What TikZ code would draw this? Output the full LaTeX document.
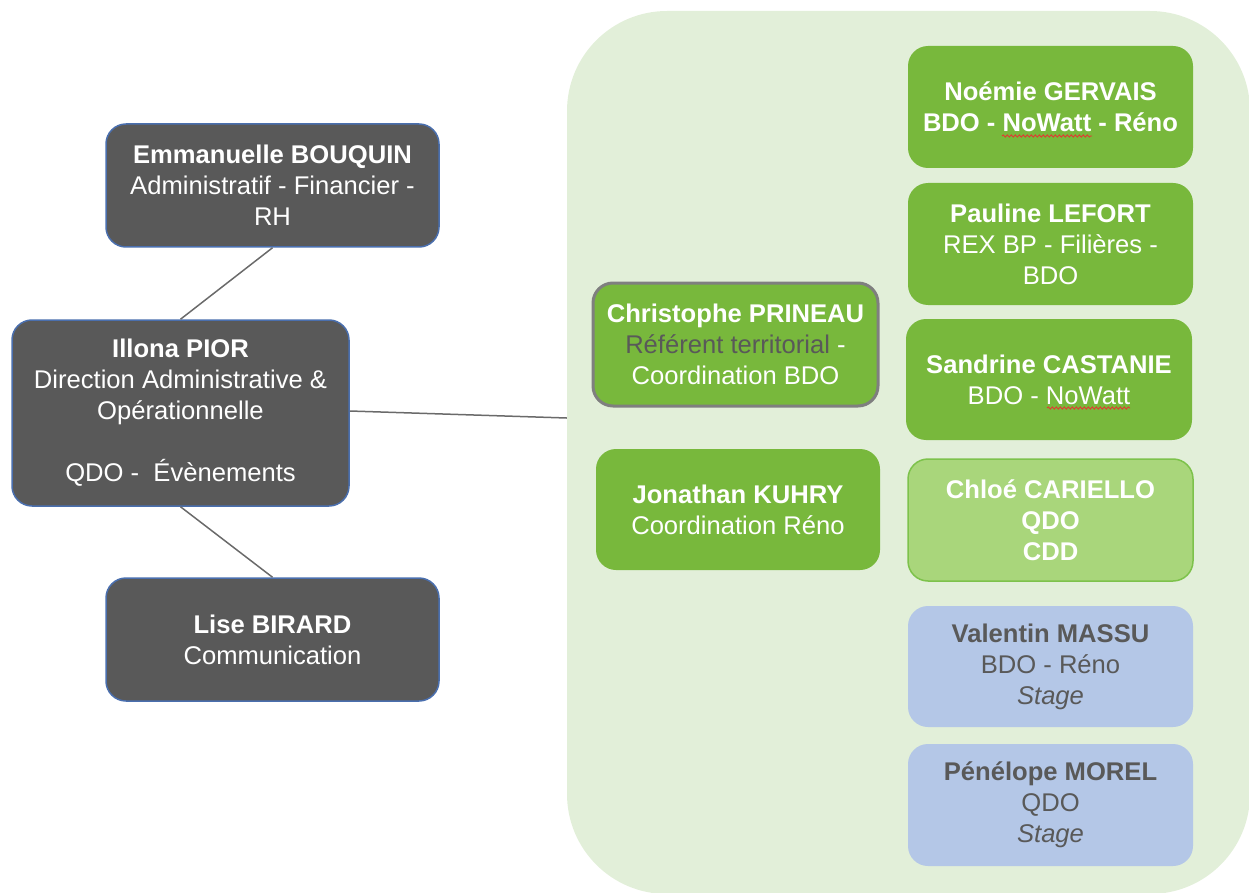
\documentclass[tikz,border=0pt]{standalone}
\usepackage{fontspec}
\setmainfont{Liberation Sans}
\usetikzlibrary{decorations.pathmorphing}
\definecolor{dk}{HTML}{595959}
\definecolor{dkborder}{HTML}{4A6FAE}
\definecolor{gr}{HTML}{78B83C}
\definecolor{lgr}{HTML}{A9D67B}
\definecolor{lgrb}{HTML}{7DC24B}
\definecolor{bl}{HTML}{B4C7E7}
\definecolor{bgc}{HTML}{E2EFD9}
\definecolor{ln}{HTML}{6A6A6A}
\definecolor{chb}{HTML}{7F7F7F}
\definecolor{spell}{HTML}{E03C31}
\begin{document}
\begin{tikzpicture}[x=1pt,y=-1pt,
  base/.style={rounded corners=20pt, inner sep=0pt, align=center, font=\fontsize{25.6}{31}\selectfont},
  darkbox/.style={base, fill=dk, draw=dkborder, line width=1.5pt, text=white},
  greenbox/.style={base, fill=gr, text=white},
  lgreenbox/.style={base, fill=lgr, draw=lgrb, line width=1.5pt, text=white},
  bluebox/.style={base, fill=bl, text=dk},
  link/.style={draw=ln, line width=1.5pt},
  squiggle/.style={spell, line width=0.9pt, decorate, decoration={snake, amplitude=1.1pt, segment length=4pt}}
]
\useasboundingbox (0,0) rectangle (1249,893);
\node[fill=bgc, rounded corners=100pt, inner sep=0pt, minimum width=683pt, minimum height=883pt] (grp) at (908.5,452.5) {};

\node[darkbox, minimum width=333pt, minimum height=123pt] (em) at (272.5,185.5)
  {\textbf{Emmanuelle BOUQUIN}\\Administratif - Financier -\\RH};
\node[darkbox, minimum width=337pt, minimum height=186pt] (il) at (180.5,413)
  {\textbf{Illona PIOR}\\Direction Administrative \&\\Opérationnelle\\[31pt]QDO -\ \ Évènements};
\node[darkbox, minimum width=333pt, minimum height=123pt] (li) at (272.5,639.5)
  {\textbf{Lise BIRARD}\\Communication};

\draw[link] (em.south) -- (il.north);
\draw[link] (il.south) -- (li.north);
\draw[link] ([yshift=2pt]il.east) -- ([yshift=34.5pt]grp.west);

\node[greenbox, draw=chb, line width=3pt, minimum width=285pt, minimum height=123pt] (ch) at (735.5,344.5)
  {\textbf{Christophe PRINEAU}\\{\color{dk}Référent territorial} -\\Coordination BDO};
\node[greenbox, minimum width=284pt, minimum height=121pt] (jo) at (738,509.5)
  {\textbf{Jonathan KUHRY}\\Coordination Réno};

\node[greenbox, minimum width=285pt, minimum height=122pt] (no) at (1050.5,107)
  {\textbf{Noémie GERVAIS}\\\textbf{BDO - NoWatt - Réno}};
\node[greenbox, minimum width=285pt, minimum height=122pt] (pa) at (1050.5,244)
  {\textbf{Pauline LEFORT}\\REX BP - Filières -\\BDO};
\node[greenbox, minimum width=286pt, minimum height=121pt] (sa) at (1049,379.5)
  {\textbf{Sandrine CASTANIE}\\BDO - NoWatt};
\node[lgreenbox, minimum width=285pt, minimum height=122pt] (cl) at (1050.5,520)
  {\textbf{Chloé CARIELLO}\\\textbf{QDO}\\\textbf{CDD}};
\node[bluebox, minimum width=285pt, minimum height=121pt] (va) at (1050.5,666.5)
  {\textbf{Valentin MASSU}\\BDO - Réno\\\textit{Stage}};
\node[bluebox, minimum width=285pt, minimum height=122pt] (pe) at (1050.5,805)
  {\textbf{Pénélope MOREL}\\QDO\\\textit{Stage}};

\draw[squiggle] (1002,136) -- (1092,136);
\draw[squiggle] (1047,408) -- (1130,408);
\end{tikzpicture}
\end{document}
